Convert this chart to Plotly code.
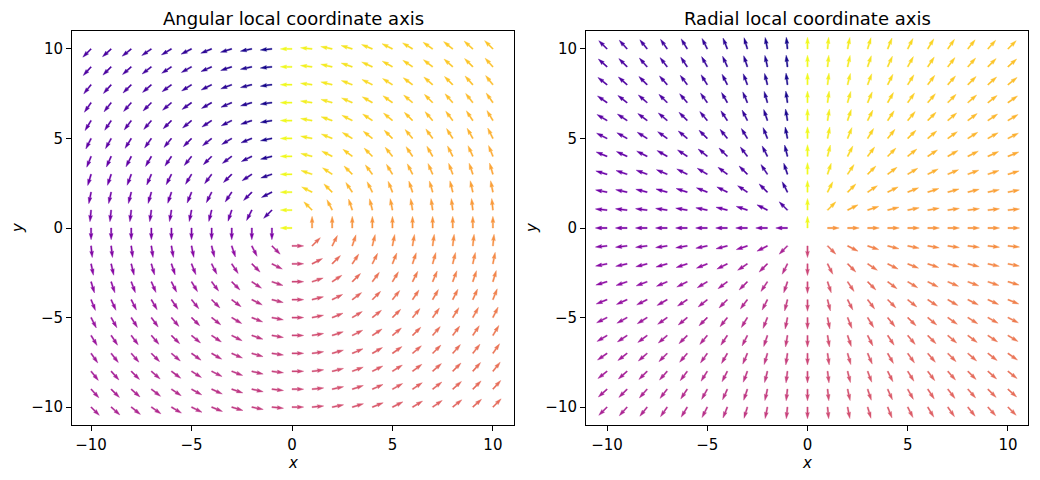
import numpy as np
import plotly.graph_objects as go

# ---------------- data ----------------
x_values = list(range(-10, 11))          # grid columns
y_values = list(range(-10, 11))          # grid rows
titles = ["Angular local coordinate axis", "Radial local coordinate axis"]
tick_vals = [-10, -5, 0, 5, 10]
tick_text = ["\u221210", "\u22125", "0", "5", "10"]

# ---------------- layout constants ----------------
W, H = 1040, 480
axes_px = [(72, 514), (586, 1028)]
top_px, bot_px = 31, 425
xranges = [(-10.95, 11.05), (-11.05, 11.0)]
yrange = (-11.0, 11.0)
FONT = "DejaVu Sans"

plasma = ["#0d0887", "#41049d", "#6a00a8", "#8f0da4", "#b12a90", "#cc4778",
          "#e16462", "#f2844b", "#fca636", "#fcce25", "#f0f921"]
pl_rgb = np.array([[int(h[i:i + 2], 16) for i in (1, 3, 5)] for h in plasma], float)


def cmap(t):
    t = min(max(t, 0.0), 1.0) * (len(plasma) - 1)
    i = min(int(np.floor(t)), len(plasma) - 2)
    f = t - i
    r = pl_rgb[i] * (1 - f) + pl_rgb[i + 1] * f
    return "#%02x%02x%02x" % tuple(int(round(v)) for v in r)


X, Y = np.meshgrid(np.array(x_values, float), np.array(y_values, float))
X = X.ravel()
Y = Y.ravel()
C = np.arctan2(X, -Y)                 # colour value (-pi..pi)
PHI = C - np.pi / 2                   # polar angle
fields = [(-np.sin(PHI), np.cos(PHI)),  # angular unit vector
          (np.cos(PHI), np.sin(PHI))]   # radial unit vector
colors = [cmap((c + np.pi) / (2 * np.pi)) for c in C]

fig = go.Figure()

for k in range(2):
    x0, x1 = axes_px[k]
    span = x1 - x0
    sn = max(10, np.sqrt(len(X)))
    Lpx = span / (1.8 * sn)
    w = 0.06 * span / sn
    Lw = Lpx / w
    base = np.array([[0, 0.5], [Lw - 4.5, 0.5], [Lw - 5, 1.5], [Lw, 0],
                     [Lw - 5, -1.5], [Lw - 4.5, -0.5], [0, -0.5]]) * w
    sx = span / (xranges[k][1] - xranges[k][0])
    sy = (bot_px - top_px) / (yrange[1] - yrange[0])
    U, V = fields[k]
    groups = {}
    for i in range(len(X)):
        th = np.arctan2(V[i], U[i])
        ct, st = np.cos(th), np.sin(th)
        px = base[:, 0] * ct - base[:, 1] * st
        py = base[:, 0] * st + base[:, 1] * ct
        gx = list(X[i] + px / sx) + [X[i] + px[0] / sx, None]
        gy = list(Y[i] + py / sy) + [Y[i] + py[0] / sy, None]
        g = groups.setdefault(colors[i], ([], []))
        g[0].extend(gx)
        g[1].extend(gy)
    xa = "x" if k == 0 else "x2"
    ya = "y" if k == 0 else "y2"
    for col, (gx, gy) in groups.items():
        fig.add_trace(go.Scatter(x=gx, y=gy, mode="lines", fill="toself",
                                 fillcolor=col, line=dict(width=0.4, color=col),
                                 xaxis=xa, yaxis=ya, hoverinfo="skip",
                                 showlegend=False))

axis_common = dict(showline=True, mirror=True, linecolor="black", linewidth=1,
                   ticks="outside", ticklen=5, tickwidth=1, tickcolor="black",
                   showgrid=False, zeroline=False, tickvals=tick_vals,
                   ticktext=tick_text,
                   tickfont=dict(family=FONT, size=15, color="black"))
ydom = [(H - bot_px) / H, (H - top_px) / H]
fig.update_layout(
    width=W, height=H, margin=dict(l=0, r=0, t=0, b=0),
    paper_bgcolor="white", plot_bgcolor="white",
    xaxis=dict(domain=[axes_px[0][0] / W, axes_px[0][1] / W],
               range=list(xranges[0]), anchor="y", ticklabelstandoff=1,
               **axis_common),
    yaxis=dict(domain=ydom, range=list(yrange), anchor="x", **axis_common),
    xaxis2=dict(domain=[axes_px[1][0] / W, axes_px[1][1] / W],
                range=list(xranges[1]), anchor="y2", ticklabelstandoff=1,
                **axis_common),
    yaxis2=dict(domain=ydom, range=list(yrange), anchor="x2", **axis_common),
)

ann = []
for k in range(2):
    cx = (axes_px[k][0] + axes_px[k][1]) / 2 / W
    ann.append(dict(text=titles[k], x=cx, y=1 - 19 / H, xref="paper", yref="paper",
                    xanchor="center", yanchor="middle", showarrow=False,
                    font=dict(family=FONT, size=18, color="black")))
    ann.append(dict(text="<i>x</i>", x=cx, y=1 - 463 / H, xref="paper", yref="paper",
                    xanchor="center", yanchor="middle", showarrow=False,
                    font=dict(family=FONT, size=15, color="black")))
    yx = (axes_px[k][0] - 54) / W
    ann.append(dict(text="<i>y</i>", x=yx, y=1 - 228 / H, xref="paper", yref="paper",
                    xanchor="center", yanchor="middle", showarrow=False, textangle=-90,
                    font=dict(family=FONT, size=15, color="black")))
fig.update_layout(annotations=ann)

fig.write_html("out.html")
